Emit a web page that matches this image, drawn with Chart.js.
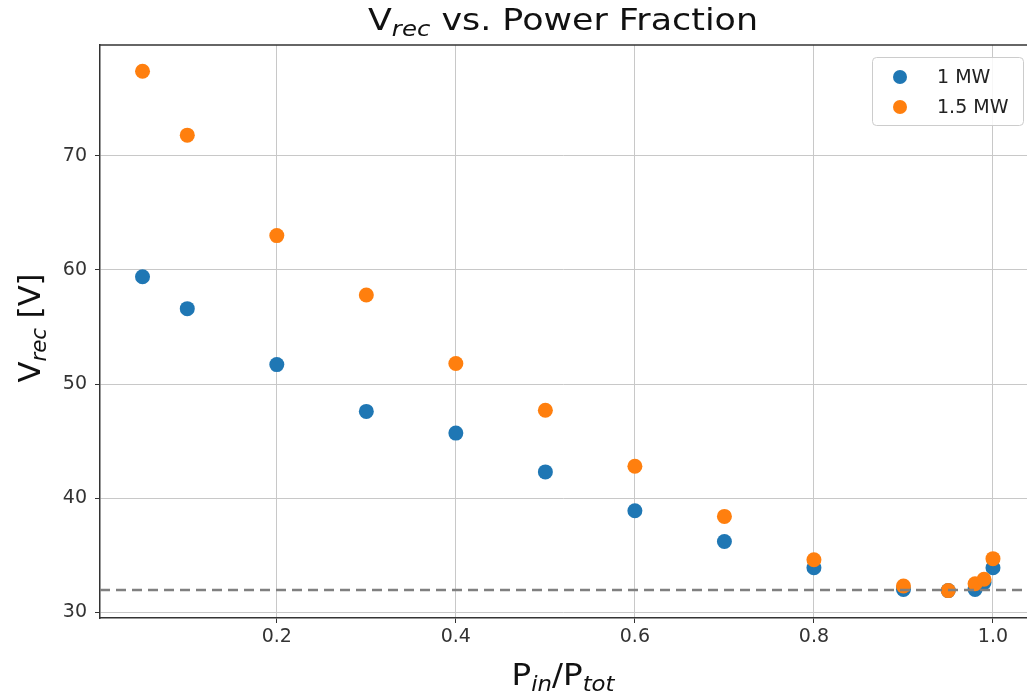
<!DOCTYPE html>
<html>
<head>
<meta charset="utf-8">
<script src="https://cdn.jsdelivr.net/npm/chart.js@4/dist/chart.umd.min.js"></script>
<style>
  html, body { margin: 0; padding: 0; background: #fff; overflow: hidden; }
  #wrap { width: 1027px; height: 698px; position: relative; }
</style>
</head>
<body>
<div id="wrap"><canvas id="chart"></canvas></div>
<script>
"use strict";

// power fraction P_in/P_tot
var fractions = [0.05, 0.1, 0.2, 0.3, 0.4, 0.5, 0.6, 0.7, 0.8, 0.9, 0.95, 0.98, 0.99, 1.0];
// V_rec [V]
var vrec1MW = [59.4, 56.6, 51.7, 47.6, 45.7, 42.3, 38.9, 36.2, 33.9, 32.0, 31.9, 32.0, 32.6, 33.9];
var vrec15MW = [77.4, 71.8, 63.0, 57.8, 51.8, 47.7, 42.8, 38.4, 34.6, 32.3, 31.9, 32.5, 32.9, 34.7];
var seriesLabels = ["1 MW", "1.5 MW"];
var refLevel = 31.95;
var xRange = [0.0025, 1.038];
var yRange = [29.5, 79.7];

var BLUE = "#1f77b4";
var ORANGE = "#ff7f0e";
var FONT = "'DejaVu Sans', sans-serif";

function toPoints(xs, ys) {
  return xs.map(function(x, i) { return { x: x, y: ys[i] }; });
}

// draws text made of parts (some italic subscripts), stretched to a given width
function drawParts(ctx, parts, size, cx, cy, width) {
  var subSize = Math.round(size * 0.7);
  var total = 0;
  parts.forEach(function(p) {
    ctx.font = (p.sub ? "italic " + subSize : size) + "px " + FONT;
    p.w = ctx.measureText(p.t).width;
    total += p.w;
  });
  var k = width ? width / total : 1;
  ctx.save();
  ctx.translate(cx, cy);
  ctx.scale(k, 1);
  var x = -total / 2;
  ctx.textAlign = "left";
  ctx.textBaseline = "alphabetic";
  parts.forEach(function(p) {
    ctx.font = (p.sub ? "italic " + subSize : size) + "px " + FONT;
    ctx.fillText(p.t, x, p.sub ? size * 0.2 : 0);
    x += p.w;
  });
  ctx.restore();
}

var labelsPlugin = {
  id: "labels",
  afterDraw: function(chart) {
    var ctx = chart.ctx;
    var area = chart.chartArea;
    ctx.save();

    // top spine
    ctx.strokeStyle = "#333";
    ctx.lineWidth = 1.5;
    ctx.beginPath();
    ctx.moveTo(area.left, area.top);
    ctx.lineTo(area.right, area.top);
    ctx.stroke();

    ctx.fillStyle = "#111";
    drawParts(ctx, [{ t: "V" }, { t: "rec", sub: true }, { t: " vs. Power Fraction" }], 30, 563, 30, 390);
    drawParts(ctx, [{ t: "P" }, { t: "in", sub: true }, { t: "/P" }, { t: "tot", sub: true }], 30, 563, 685, 103);

    ctx.save();
    ctx.translate(40, 328);
    ctx.rotate(-Math.PI / 2);
    drawParts(ctx, [{ t: "V" }, { t: "rec", sub: true }, { t: " [V]" }], 30, 0, 0, 109);
    ctx.restore();

    // legend
    var lx = 872, ly = 57, lw = 151, lh = 68;
    ctx.fillStyle = "rgba(255,255,255,0.85)";
    ctx.strokeStyle = "#cccccc";
    ctx.lineWidth = 1;
    ctx.beginPath();
    ctx.roundRect(lx + 0.5, ly + 0.5, lw, lh, 4);
    ctx.fill();
    ctx.stroke();
    var colors = [BLUE, ORANGE];
    ctx.font = "19px " + FONT;
    ctx.textBaseline = "middle";
    seriesLabels.forEach(function(label, i) {
      var yy = 77 + i * 30;
      ctx.fillStyle = colors[i];
      ctx.beginPath();
      ctx.arc(900, yy, 7, 0, Math.PI * 2);
      ctx.fill();
      ctx.fillStyle = "#222";
      ctx.textAlign = "left";
      ctx.fillText(label, 937, yy + 1);
    });
    ctx.restore();
  }
};

new Chart(document.getElementById("chart"), {
  type: "scatter",
  data: {
    datasets: [{
      type: "line",
      label: "ref",
      data: [{ x: xRange[0], y: refLevel }, { x: xRange[1], y: refLevel }],
      borderColor: "#808080",
      borderWidth: 2.5,
      borderDash: [10, 6],
      pointRadius: 0,
      fill: false,
      order: 0
    }, {
      label: seriesLabels[0],
      data: toPoints(fractions, vrec1MW),
      backgroundColor: BLUE,
      borderWidth: 0,
      pointRadius: 7.5,
      order: 2
    }, {
      label: seriesLabels[1],
      data: toPoints(fractions, vrec15MW),
      backgroundColor: ORANGE,
      borderWidth: 0,
      pointRadius: 7.5,
      order: 1
    }]
  },
  options: {
    responsive: true,
    maintainAspectRatio: false,
    animation: false,
    layout: { autoPadding: false, padding: { top: 45, right: 0, left: 0, bottom: 0 } },
    plugins: {
      legend: { display: false },
      title: { display: false },
      tooltip: { enabled: false }
    },
    scales: {
      x: {
        type: "linear",
        min: xRange[0],
        max: xRange[1],
        afterFit: function(scale) { scale.height = 80; },
        grid: { color: "#c8c8c8", lineWidth: 1, tickColor: "#333", tickLength: 5 },
        border: { color: "#333", width: 1.5 },
        ticks: {
          stepSize: 0.2,
          includeBounds: false,
          color: "#333",
          padding: 3,
          font: { family: FONT, size: 19 },
          callback: function(v) { return v.toFixed(1); }
        }
      },
      y: {
        min: yRange[0],
        max: yRange[1],
        afterFit: function(scale) { scale.width = 100; },
        grid: { color: "#c8c8c8", lineWidth: 1, tickColor: "#333", tickLength: 5 },
        border: { color: "#333", width: 1.5 },
        ticks: {
          stepSize: 10,
          includeBounds: false,
          color: "#333",
          padding: 8,
          font: { family: FONT, size: 19 }
        }
      }
    }
  },
  plugins: [labelsPlugin]
});
</script>
</body>
</html>
